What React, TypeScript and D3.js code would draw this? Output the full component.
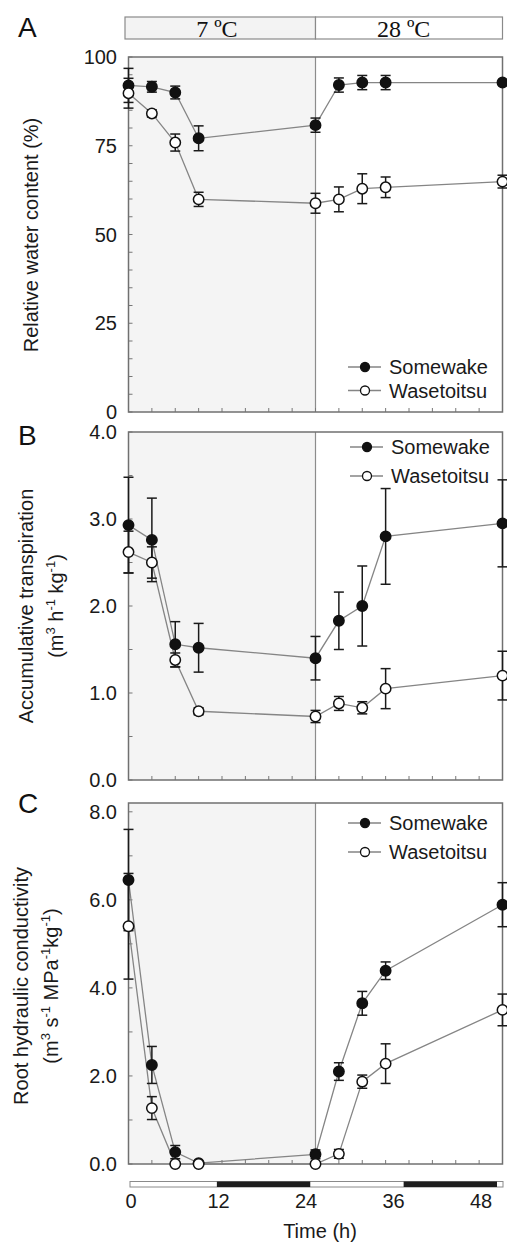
import React, { useRef, useEffect } from 'react';
import * as d3 from 'd3';

// sampling times (h)
const times = [0, 3, 6, 9, 24, 27, 30, 33, 48];
const seriesNames = ['Somewake', 'Wasetoitsu'];

// A: relative water content (%)
const rwcSomewake = [92.0, 91.6, 90.0, 77.1, 80.8, 92.1, 92.8, 92.8, 92.8];
const rwcSomewakeErr = [4.8, 1.5, 1.8, 3.5, 2.0, 2.0, 2.0, 2.0, 0];
const rwcWasetoitsu = [89.8, 84.1, 75.9, 59.9, 58.8, 59.9, 62.9, 63.3, 64.9];
const rwcWasetoitsuErr = [4.2, 1.0, 2.4, 2.0, 2.8, 3.5, 4.2, 2.9, 1.8];

// B: accumulative transpiration
const trSomewake = [2.93, 2.76, 1.56, 1.52, 1.40, 1.83, 2.00, 2.80, 2.95];
const trSomewakeErr = [0.55, 0.48, 0.26, 0.28, 0.25, 0.33, 0.46, 0.55, 0.5];
const trWasetoitsu = [2.62, 2.50, 1.38, 0.79, 0.73, 0.88, 0.83, 1.05, 1.20];
const trWasetoitsuErr = [0.24, 0.18, 0.08, 0.04, 0.07, 0.08, 0.07, 0.23, 0.28];

// C: root hydraulic conductivity
const rcSomewake = [6.45, 2.25, 0.27, 0.02, 0.22, 2.1, 3.65, 4.39, 5.89];
const rcSomewakeErr = [1.15, 0.42, 0.15, 0, 0.1, 0.2, 0.27, 0.2, 0.5];
const rcWasetoitsu = [5.4, 1.27, 0.0, 0.0, 0.0, 0.23, 1.87, 2.28, 3.5];
const rcWasetoitsuErr = [1.2, 0.26, 0, 0, 0, 0.1, 0.15, 0.45, 0.36];

const timeTicks = [0, 12, 24, 36, 48];
const darkPeriods = [[12, 24], [36, 48]];
const temperatureLabels = [
  { label: '7 ºC', mid: 12 },
  { label: '28 ºC', mid: 36 },
];

const sans = "'Liberation Sans', Arial, Helvetica, sans-serif";

const App = () => {
  const svgRef = useRef(null);

  useEffect(() => {
    const svg = d3.select(svgRef.current).html('');

    const x = d3.scaleLinear().domain([0, 48]).range([128.5, 502.5]);
    // the light/dark strip and temperature labels sit slightly left of the data axis
    const stripX = d3.scaleLinear().domain([0, 48]).range([123.5, 497]);
    const labelX = d3.scaleLinear().domain([0, 48]).range([131, 481]);

    // temperature bar
    svg.append('rect')
      .attr('x', x(0) - 3.5).attr('y', 17)
      .attr('width', x(24) - x(0) + 3.5).attr('height', 22)
      .attr('fill', '#f3f3f3').attr('stroke', '#8a8a8a').attr('stroke-width', 1.2);
    svg.append('rect')
      .attr('x', x(24)).attr('y', 17)
      .attr('width', x(48) - x(24)).attr('height', 22)
      .attr('fill', '#fff').attr('stroke', '#8a8a8a').attr('stroke-width', 1.2);
    svg.selectAll('.temp')
      .data(temperatureLabels)
      .enter().append('text')
      .attr('x', d => stripX(d.mid))
      .attr('y', 37)
      .attr('text-anchor', 'middle')
      .attr('font-family', "'Liberation Serif', 'Times New Roman', serif")
      .attr('font-size', 24)
      .attr('fill', '#111')
      .text(d => d.label);

    const panels = [
      {
        letter: 'A', letterY: 37, top: 57, bottom: 412, max: 100,
        ticks: [0, 25, 50, 75, 100], minor: 5, fmt: d3.format('d'),
        s: rwcSomewake, se: rwcSomewakeErr, w: rwcWasetoitsu, we: rwcWasetoitsuErr,
        title: [[{ t: 'Relative water content (%)' }]], titleX: [37.5], titleY: 235,
        legendX: 365, legendY: 367, legendGap: 23.5,
      },
      {
        letter: 'B', letterY: 445, top: 432, bottom: 780, max: 4,
        ticks: [0, 1, 2, 3, 4], minor: 0.5, fmt: d3.format('.1f'),
        s: trSomewake, se: trSomewakeErr, w: trWasetoitsu, we: trWasetoitsuErr,
        title: [
          [{ t: 'Accumulative transpiration' }],
          [{ t: '(m' }, { t: '3', sup: true }, { t: ' h' }, { t: '-1', sup: true }, { t: ' kg' }, { t: '-1', sup: true }, { t: ')' }],
        ],
        titleX: [33, 63], titleY: 606,
        legendX: 367, legendY: 447, legendGap: 29,
      },
      {
        letter: 'C', letterY: 813, top: 803, bottom: 1164, max: 8.2,
        ticks: [0, 2, 4, 6, 8], minor: 1, fmt: d3.format('.1f'),
        s: rcSomewake, se: rcSomewakeErr, w: rcWasetoitsu, we: rcWasetoitsuErr,
        title: [
          [{ t: 'Root hydraulic conductivity' }],
          [{ t: '(m' }, { t: '3', sup: true }, { t: ' s' }, { t: '-1', sup: true }, { t: ' MPa' }, { t: '-1', sup: true }, { t: 'kg' }, { t: '-1', sup: true }, { t: ')' }],
        ],
        titleX: [28, 58], titleY: 986,
        legendX: 365, legendY: 823, legendGap: 29,
      },
    ];

    panels.forEach(p => {
      const y = d3.scaleLinear().domain([0, p.max]).range([p.bottom, p.top]);
      const g = svg.append('g');

      // 7 ºC shading
      g.append('rect')
        .attr('x', x(0)).attr('y', p.top)
        .attr('width', x(24) - x(0)).attr('height', p.bottom - p.top)
        .attr('fill', '#f4f4f4');
      g.append('line')
        .attr('x1', x(24)).attr('x2', x(24))
        .attr('y1', p.top).attr('y2', p.bottom)
        .attr('stroke', '#8c8c8c').attr('stroke-width', 1.2);

      // y ticks (inward)
      const minorTicks = d3.range(0, p.max + 1e-6, p.minor);
      g.selectAll('.ytick')
        .data(minorTicks)
        .enter().append('line')
        .attr('x1', x(0)).attr('x2', x(0) + 4)
        .attr('y1', d => y(d)).attr('y2', d => y(d))
        .attr('stroke', '#777').attr('stroke-width', 1);

      // x ticks every 3 h (inward)
      g.selectAll('.xtick')
        .data(d3.range(3, 48, 3))
        .enter().append('line')
        .attr('x1', d => x(d)).attr('x2', d => x(d))
        .attr('y1', p.bottom).attr('y2', p.bottom - 4)
        .attr('stroke', '#777').attr('stroke-width', 1);

      // frame
      g.append('rect')
        .attr('x', x(0)).attr('y', p.top)
        .attr('width', x(48) - x(0)).attr('height', p.bottom - p.top)
        .attr('fill', 'none').attr('stroke', '#707070').attr('stroke-width', 1.5);

      // y labels
      g.selectAll('.ylabel')
        .data(p.ticks)
        .enter().append('text')
        .attr('x', 117)
        .attr('y', d => y(d))
        .attr('dy', '0.36em')
        .attr('text-anchor', 'end')
        .attr('font-family', sans).attr('font-size', 20).attr('fill', '#1a1a1a')
        .text(d => p.fmt(d));

      const series = [
        { name: seriesNames[0], values: p.s, err: p.se, filled: true },
        { name: seriesNames[1], values: p.w, err: p.we, filled: false },
      ].map(s => ({ ...s, pts: times.map((t, i) => ({ t, v: s.values[i], e: s.err[i] })) }));

      const line = d3.line().x(d => x(d.t)).y(d => y(d.v));

      series.forEach(s => {
        g.append('path')
          .datum(s.pts)
          .attr('d', line)
          .attr('fill', 'none')
          .attr('stroke', '#858585').attr('stroke-width', 1.3);
      });

      series.forEach(s => {
        const eb = g.append('g').attr('stroke', '#1a1a1a').attr('stroke-width', 1.5);
        s.pts.filter(d => d.e > 0).forEach(d => {
          const cx = x(d.t);
          eb.append('line').attr('x1', cx).attr('x2', cx).attr('y1', y(d.v + d.e)).attr('y2', y(d.v - d.e));
          eb.append('line').attr('x1', cx - 5).attr('x2', cx + 5).attr('y1', y(d.v + d.e)).attr('y2', y(d.v + d.e));
          eb.append('line').attr('x1', cx - 5).attr('x2', cx + 5).attr('y1', y(d.v - d.e)).attr('y2', y(d.v - d.e));
        });
      });

      series.forEach(s => {
        g.selectAll(null)
          .data(s.pts)
          .enter().append('circle')
          .attr('cx', d => x(d.t))
          .attr('cy', d => y(d.v))
          .attr('r', 5.2)
          .attr('fill', s.filled ? '#111' : '#fff')
          .attr('stroke', '#111').attr('stroke-width', 1.5);
      });

      // legend
      series.forEach((s, i) => {
        const ly = p.legendY + i * p.legendGap;
        g.append('line')
          .attr('x1', p.legendX - 17).attr('x2', p.legendX + 16)
          .attr('y1', ly).attr('y2', ly)
          .attr('stroke', '#858585').attr('stroke-width', 1.3);
        g.append('circle')
          .attr('cx', p.legendX).attr('cy', ly).attr('r', 4.5)
          .attr('fill', s.filled ? '#111' : '#fff')
          .attr('stroke', '#111').attr('stroke-width', 1.3);
        g.append('text')
          .attr('x', p.legendX + 24).attr('y', ly).attr('dy', '0.36em')
          .attr('font-family', sans).attr('font-size', 20).attr('fill', '#1a1a1a')
          .text(s.name);
      });

      // panel letter
      svg.append('text')
        .attr('x', 18).attr('y', p.letterY)
        .attr('font-family', sans).attr('font-size', 28).attr('fill', '#111')
        .text(p.letter);

      // y title
      p.title.forEach((segs, li) => {
        const t = svg.append('text')
          .attr('transform', `translate(${p.titleX[li]},${p.titleY}) rotate(-90)`)
          .attr('text-anchor', 'middle')
          .attr('font-family', sans).attr('font-size', 20).attr('fill', '#1a1a1a');
        segs.forEach((sg, k) => {
          const prevSup = k > 0 && segs[k - 1].sup;
          t.append('tspan')
            .attr('font-size', sg.sup ? 13 : 20)
            .attr('dy', sg.sup ? -8 : prevSup ? 8 : 0)
            .text(sg.t);
        });
      });
    });

    // light/dark strip
    const stripY = 1181.5;
    svg.append('rect')
      .attr('x', stripX(0) + 6.5).attr('y', stripY)
      .attr('width', x(48) - stripX(0) - 6).attr('height', 5.5)
      .attr('fill', '#fff').attr('stroke', '#8a8a8a').attr('stroke-width', 1);
    svg.selectAll('.dark')
      .data(darkPeriods)
      .enter().append('rect')
      .attr('x', d => stripX(d[0])).attr('y', stripY)
      .attr('width', d => stripX(d[1]) - stripX(d[0])).attr('height', 5.5)
      .attr('fill', '#1e1e1e');

    svg.selectAll('.xlabel')
      .data(timeTicks)
      .enter().append('text')
      .attr('x', d => labelX(d)).attr('y', 1208)
      .attr('text-anchor', 'middle')
      .attr('font-family', sans).attr('font-size', 20).attr('fill', '#1a1a1a')
      .text(d => d);

    svg.append('text')
      .attr('x', 320).attr('y', 1238)
      .attr('text-anchor', 'middle')
      .attr('font-family', sans).attr('font-size', 20).attr('fill', '#1a1a1a')
      .text('Time (h)');
  }, []);

  return (
    <svg
      ref={svgRef}
      width={507}
      height={1244}
      style={{ position: 'absolute', left: 0, top: 0, background: '#fff' }}
    />
  );
};

export default App;
